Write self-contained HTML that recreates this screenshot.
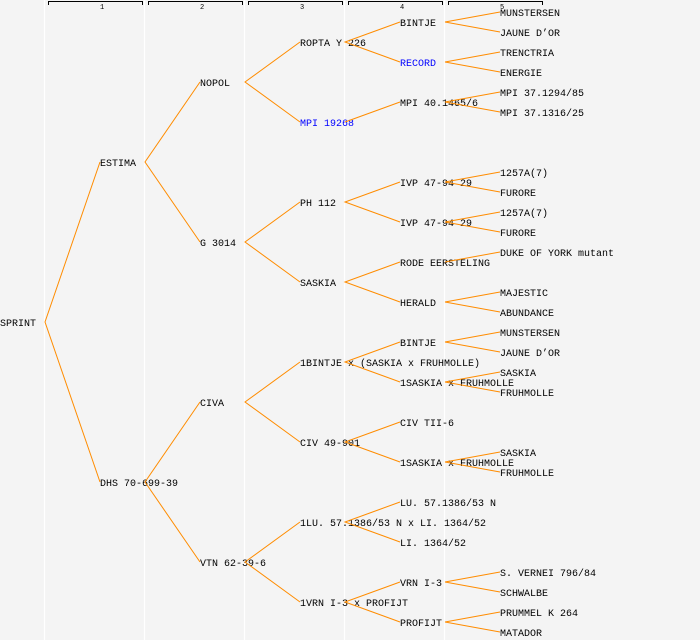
<!DOCTYPE html>
<html><head><meta charset="utf-8"><style>
html,body{margin:0;padding:0;background:#f4f4f4;}
svg{display:block;}
text{font-family:"Liberation Mono",monospace;font-size:10px;fill:#000;}
.h{font-size:7px;}
</style></head><body>
<svg width="700" height="640" xmlns="http://www.w3.org/2000/svg">
<rect width="700" height="640" fill="#f4f4f4"/>
<g stroke="#ffffff" stroke-width="1.2">
<line x1="44.5" y1="0" x2="44.5" y2="640"/><line x1="144.5" y1="0" x2="144.5" y2="640"/>
<line x1="244.5" y1="0" x2="244.5" y2="640"/><line x1="344.5" y1="0" x2="344.5" y2="640"/>
<line x1="444.5" y1="0" x2="444.5" y2="640"/>
</g>
<g stroke="#000" stroke-width="1" fill="none">
<path d="M48.5 5V1.5H142.5V5"/><path d="M148.5 5V1.5H242.5V5"/><path d="M248.5 5V1.5H342.5V5"/>
<path d="M348.5 5V1.5H442.5V5"/><path d="M448.5 5V1.5H542.5V5"/>
</g>
<g class="h"><text class="h" x="100" y="9">1</text><text class="h" x="200" y="9">2</text><text class="h" x="300" y="9">3</text><text class="h" x="400" y="9">4</text><text class="h" x="500" y="9">5</text></g>
<g id="t">
<text x="0" y="326">SPRINT</text>
<text x="100" y="166">ESTIMA</text><text x="100" y="486">DHS 70-699-39</text>
<text x="200" y="86">NOPOL</text><text x="200" y="246">G 3014</text><text x="200" y="406">CIVA</text><text x="200" y="566">VTN 62-39-6</text>
<text x="300" y="46">ROPTA Y 226</text><text x="300" y="126" style="fill:#0000ff">MPI 19268</text>
<text x="300" y="206">PH 112</text><text x="300" y="286">SASKIA</text>
<text x="300" y="366">1BINTJE x (SASKIA x FRUHMOLLE)</text><text x="300" y="446">CIV 49-901</text>
<text x="300" y="526">1LU. 57.1386/53 N x LI. 1364/52</text><text x="300" y="606">1VRN I-3 x PROFIJT</text>
<text x="400" y="26">BINTJE</text><text x="400" y="66" style="fill:#0000ff">RECORD</text>
<text x="400" y="106">MPI 40.1465/6</text>
<text x="400" y="186">IVP 47-94 29</text><text x="400" y="226">IVP 47-94 29</text>
<text x="400" y="266">RODE EERSTELING</text><text x="400" y="306">HERALD</text>
<text x="400" y="346">BINTJE</text><text x="400" y="386">1SASKIA x FRUHMOLLE</text>
<text x="400" y="426">CIV TII-6</text><text x="400" y="466">1SASKIA x FRUHMOLLE</text>
<text x="400" y="506">LU. 57.1386/53 N</text><text x="400" y="546">LI. 1364/52</text>
<text x="400" y="586">VRN I-3</text><text x="400" y="626">PROFIJT</text>
<text x="500" y="16">MUNSTERSEN</text><text x="500" y="36">JAUNE D’OR</text>
<text x="500" y="56">TRENCTRIA</text><text x="500" y="76">ENERGIE</text>
<text x="500" y="96">MPI 37.1294/85</text><text x="500" y="116">MPI 37.1316/25</text>
<text x="500" y="176">1257A(7)</text><text x="500" y="196">FURORE</text>
<text x="500" y="216">1257A(7)</text><text x="500" y="236">FURORE</text>
<text x="500" y="256">DUKE OF YORK mutant</text>
<text x="500" y="296">MAJESTIC</text><text x="500" y="316">ABUNDANCE</text>
<text x="500" y="336">MUNSTERSEN</text><text x="500" y="356">JAUNE D’OR</text>
<text x="500" y="376">SASKIA</text><text x="500" y="396">FRUHMOLLE</text>
<text x="500" y="456">SASKIA</text><text x="500" y="476">FRUHMOLLE</text>
<text x="500" y="576">S. VERNEI 796/84</text><text x="500" y="596">SCHWALBE</text>
<text x="500" y="616">PRUMMEL K 264</text><text x="500" y="636">MATADOR</text>
</g>
<g stroke="#ff8c00" stroke-width="1" fill="none">
<path d="M100 162L45 322L100 482"/>
<path d="M200 82L145 162L200 242"/>
<path d="M200 402L145 482L200 562"/>
<path d="M300 42L245 82L300 122"/>
<path d="M300 202L245 242L300 282"/>
<path d="M300 362L245 402L300 442"/>
<path d="M300 522L245 562L300 602"/>
<path d="M400 22L345 42L400 62"/>
<path d="M345 122L400 102"/>
<path d="M400 182L345 202L400 222"/>
<path d="M400 262L345 282L400 302"/>
<path d="M400 342L345 362L400 382"/>
<path d="M400 422L345 442L400 462"/>
<path d="M400 502L345 522L400 542"/>
<path d="M400 582L345 602L400 622"/>
<path d="M500 12L445 22L500 32"/>
<path d="M500 52L445 62L500 72"/>
<path d="M500 92L445 102L500 112"/>
<path d="M500 172L445 182L500 192"/>
<path d="M500 212L445 222L500 232"/>
<path d="M445 262L500 252"/>
<path d="M500 292L445 302L500 312"/>
<path d="M500 332L445 342L500 352"/>
<path d="M500 372L445 382L500 392"/>
<path d="M500 452L445 462L500 472"/>
<path d="M500 572L445 582L500 592"/>
<path d="M500 612L445 622L500 632"/>
</g>
</svg>
</body></html>
